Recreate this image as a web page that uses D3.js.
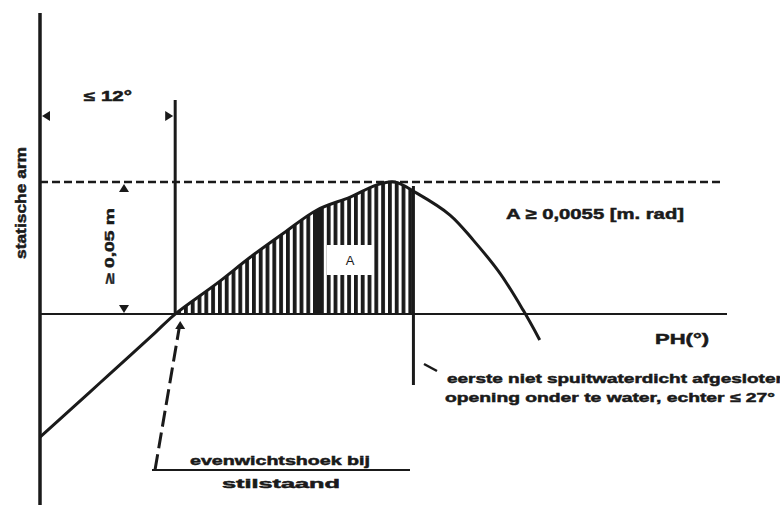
<!DOCTYPE html>
<html>
<head>
<meta charset="utf-8">
<script src="https://cdn.jsdelivr.net/npm/d3@7"></script>
<style>
  body { margin: 0; background: #fff; }
  svg { display: block; }
  text { font-family: "Liberation Sans", Arial, sans-serif; font-weight: bold; fill: #1a1a1a; stroke: #1a1a1a; stroke-width: 0.5px; }
</style>
</head>
<body>
<div id="chart"></div>
<script>
const svgWidth = 780;
const svgHeight = 505;

// heel angle (deg) and static arm (m)
const angles = [0, 2.7, 5.4, 8.1, 10.4, 12.2, 16, 19, 22, 25, 28, 30.4, 32, 34, 37, 39.1, 41.5, 43.6, 45.1];
const arms = [-0.0466, -0.0364, -0.0261, -0.0158, -0.0070, 0, 0.0117, 0.0216, 0.0307, 0.0394, 0.0443, 0.0489, 0.05, 0.0458, 0.0375, 0.028, 0.0155, 0.0015, -0.0098];

const equilAngle = 12.2;   // evenwichtshoek
const floodAngle = 33.7;   // eerste opening te water
const minArm = 0.05;       // >= 0,05 m
const thickStripeAngle = 25;

const labels = {
  yTitle: "statische arm",
  xTitle: "PH(°)",
  angleLimit: "≤ 12°",
  armLimit: "≥ 0,05 m",
  area: "A ≥ 0,0055 [m. rad]",
  areaTag: "A",
  floodLine1: "eerste niet spuitwaterdicht afgesloten",
  floodLine2: "opening onder te water, echter ≤ 27°",
  equilLine1: "evenwichtshoek bij",
  equilLine2: "stilstaand"
};

const data = angles.map((a, i) => ({ angle: a, arm: arms[i] }));

const svg = d3.select("#chart")
  .append("svg")
  .attr("width", svgWidth)
  .attr("height", svgHeight);

const x = d3.scaleLinear().domain([0, 62]).range([40, 727]);
const y = d3.scaleLinear().domain([-0.0723, 0.114]).range([505, 13]);

const ink = "#1a1a1a";
const curve = d3.curveCatmullRom.alpha(0.5);
const armArea = d3.area().curve(curve).x(d => x(d.angle)).y0(y(0)).y1(d => y(d.arm));

// hatch pattern + clips
const defs = svg.append("defs");
const pat = defs.append("pattern")
  .attr("id", "hatch")
  .attr("patternUnits", "userSpaceOnUse")
  .attr("x", x(equilAngle) + 2)
  .attr("width", 6.8)
  .attr("height", 10);
pat.append("rect").attr("width", 3.8).attr("height", 10).attr("fill", ink);

defs.append("clipPath").attr("id", "areaClip")
  .append("rect")
  .attr("x", x(equilAngle))
  .attr("y", 0)
  .attr("width", x(floodAngle) - x(equilAngle))
  .attr("height", y(0));

defs.append("clipPath").attr("id", "stripeClip")
  .append("rect")
  .attr("x", x(thickStripeAngle) - 4).attr("y", 0)
  .attr("width", 8).attr("height", y(0));

// hatched area A
svg.append("path")
  .datum(data)
  .attr("clip-path", "url(#areaClip)")
  .attr("fill", "url(#hatch)")
  .attr("d", armArea);

// thick stripe inside A
svg.append("path")
  .datum(data)
  .attr("clip-path", "url(#stripeClip)")
  .attr("fill", ink)
  .attr("d", armArea);

// "A" label box
svg.append("rect")
  .attr("x", 327).attr("y", 245).attr("width", 45).attr("height", 30)
  .attr("fill", "#fff");
svg.append("text")
  .attr("x", 350).attr("y", 265)
  .attr("text-anchor", "middle")
  .style("font-weight", "normal")
  .style("stroke-width", 0)
  .style("font-size", "13px")
  .text(labels.areaTag);

// y axis
svg.append("line")
  .attr("x1", x(0)).attr("x2", x(0))
  .attr("y1", 13).attr("y2", 505)
  .attr("stroke", ink).attr("stroke-width", 3.5);

// zero line
svg.append("line")
  .attr("x1", x(0)).attr("x2", 727)
  .attr("y1", y(0)).attr("y2", y(0))
  .attr("stroke", ink).attr("stroke-width", 2);

// dashed max line
svg.append("line")
  .attr("x1", x(0)).attr("x2", 720)
  .attr("y1", y(minArm)).attr("y2", y(minArm))
  .attr("stroke", ink).attr("stroke-width", 2.5)
  .attr("stroke-dasharray", "8,4");

// vertical at equilibrium angle
svg.append("line")
  .attr("x1", x(equilAngle)).attr("x2", x(equilAngle))
  .attr("y1", 100).attr("y2", y(0))
  .attr("stroke", ink).attr("stroke-width", 3);

// vertical at flood angle
svg.append("line")
  .attr("x1", x(floodAngle)).attr("x2", x(floodAngle))
  .attr("y1", y(minArm) + 4).attr("y2", 385)
  .attr("stroke", ink).attr("stroke-width", 3);

// stability curve
svg.append("path")
  .datum(data)
  .attr("fill", "none")
  .attr("stroke", ink)
  .attr("stroke-width", 3)
  .attr("d", d3.line().curve(curve).x(d => x(d.angle)).y(d => y(d.arm)));

// small arrowheads
function tri(cx, cy, dir) {
  const s = 5, l = 8;
  let pts;
  if (dir === "up") pts = [[cx, cy], [cx - s, cy + l], [cx + s, cy + l]];
  if (dir === "down") pts = [[cx, cy], [cx - s, cy - l], [cx + s, cy - l]];
  if (dir === "left") pts = [[cx, cy], [cx + l, cy - s], [cx + l, cy + s]];
  if (dir === "right") pts = [[cx, cy], [cx - l, cy - s], [cx - l, cy + s]];
  svg.append("polygon").attr("points", pts.map(p => p.join(",")).join(" ")).attr("fill", ink);
}
tri(x(0) + 2, 116, "left");
tri(x(equilAngle) - 2, 116, "right");
tri(124, y(minArm) + 2, "up");
tri(124, y(0) - 1, "down");

svg.append("text")
  .attr("x", 108).attr("y", 101)
  .attr("text-anchor", "middle")
  .style("font-size", "14px")
  .attr("textLength", 48)
  .attr("lengthAdjust", "spacingAndGlyphs")
  .text(labels.angleLimit);

// y title
svg.append("text")
  .attr("transform", "translate(26, 203) rotate(-90)")
  .attr("text-anchor", "middle")
  .style("font-size", "15px")
  .attr("textLength", 112)
  .attr("lengthAdjust", "spacingAndGlyphs")
  .text(labels.yTitle);

// arm limit
svg.append("text")
  .attr("transform", "translate(114, 246) rotate(-90)")
  .attr("text-anchor", "middle")
  .style("font-size", "13px")
  .attr("textLength", 76)
  .attr("lengthAdjust", "spacingAndGlyphs")
  .text(labels.armLimit);

// area requirement
svg.append("text")
  .attr("x", 506).attr("y", 219)
  .style("font-size", "15px")
  .attr("textLength", 178)
  .attr("lengthAdjust", "spacingAndGlyphs")
  .text(labels.area);

// x title
svg.append("text")
  .attr("x", 655).attr("y", 344)
  .style("font-size", "15px")
  .attr("textLength", 54)
  .attr("lengthAdjust", "spacingAndGlyphs")
  .text(labels.xTitle);

// flood angle note
svg.append("line")
  .attr("x1", 424).attr("y1", 364).attr("x2", 437).attr("y2", 371)
  .attr("stroke", ink).attr("stroke-width", 2.5);
svg.append("text")
  .attr("x", 447).attr("y", 383)
  .style("font-size", "13px")
  .attr("textLength", 340)
  .attr("lengthAdjust", "spacingAndGlyphs")
  .text(labels.floodLine1);
svg.append("text")
  .attr("x", 445).attr("y", 402)
  .style("font-size", "13px")
  .attr("textLength", 330)
  .attr("lengthAdjust", "spacingAndGlyphs")
  .text(labels.floodLine2);

// equilibrium note with dashed leader
svg.append("line")
  .attr("x1", 155).attr("y1", 470).attr("x2", x(equilAngle) + 4).attr("y2", y(0) + 14)
  .attr("stroke", ink).attr("stroke-width", 3)
  .attr("stroke-dasharray", "16,6");
tri(x(equilAngle) + 5, y(0) + 7, "up");
svg.append("line")
  .attr("x1", 152).attr("x2", 410)
  .attr("y1", 470).attr("y2", 470)
  .attr("stroke", ink).attr("stroke-width", 2);
svg.append("text")
  .attr("x", 280).attr("y", 465)
  .attr("text-anchor", "middle")
  .style("font-size", "13px")
  .attr("textLength", 180)
  .attr("lengthAdjust", "spacingAndGlyphs")
  .text(labels.equilLine1);
svg.append("text")
  .attr("x", 281).attr("y", 488)
  .attr("text-anchor", "middle")
  .style("font-size", "13px")
  .attr("textLength", 118)
  .attr("lengthAdjust", "spacingAndGlyphs")
  .text(labels.equilLine2);
</script>
</body>
</html>
